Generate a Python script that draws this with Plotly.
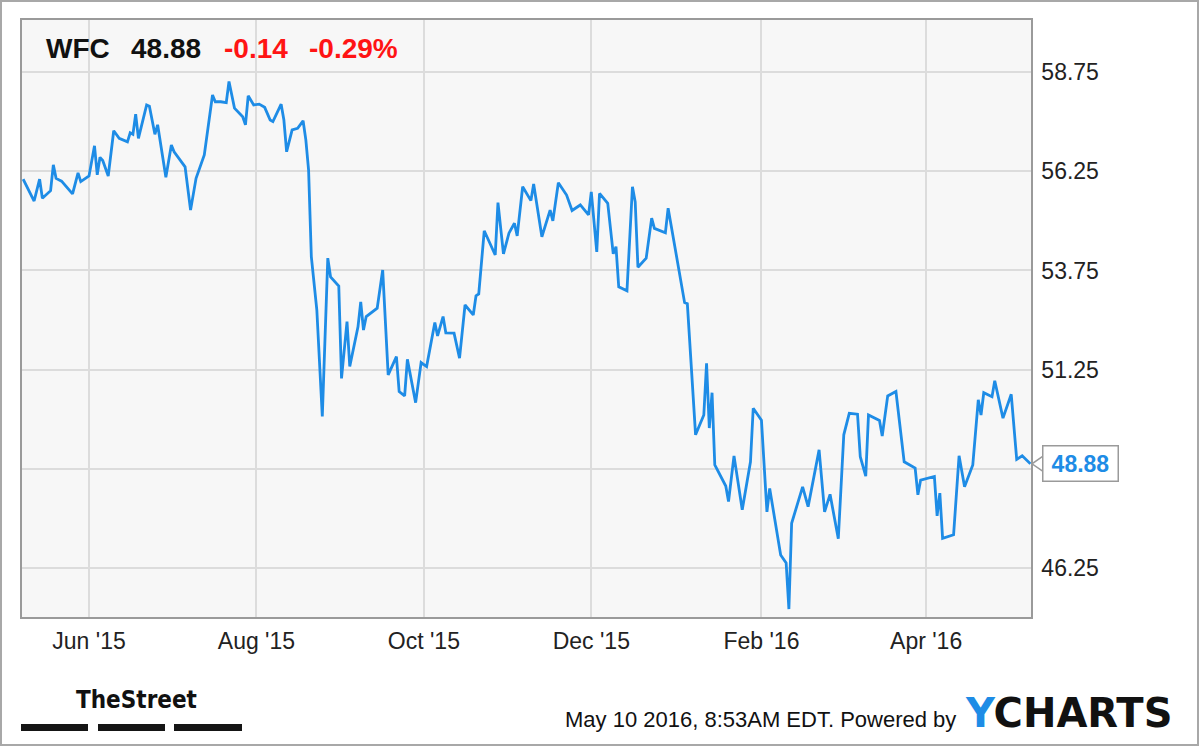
import plotly.graph_objects as go
import pandas as pd

# ---------------- data ----------------
dates = [
    "2015-05-08", "2015-05-12", "2015-05-14", "2015-05-15", "2015-05-18", "2015-05-19", "2015-05-20",
    "2015-05-22", "2015-05-26", "2015-05-28", "2015-05-29", "2015-05-31", "2015-06-01", "2015-06-03",
    "2015-06-04", "2015-06-05", "2015-06-06", "2015-06-08", "2015-06-10", "2015-06-12", "2015-06-15",
    "2015-06-16", "2015-06-17", "2015-06-18", "2015-06-19", "2015-06-22", "2015-06-23", "2015-06-25",
    "2015-06-26", "2015-06-29", "2015-07-01", "2015-07-02", "2015-07-06", "2015-07-08", "2015-07-10",
    "2015-07-13", "2015-07-16", "2015-07-17", "2015-07-19", "2015-07-21", "2015-07-22", "2015-07-24",
    "2015-07-27", "2015-07-28", "2015-07-29", "2015-07-31", "2015-08-02", "2015-08-04", "2015-08-06",
    "2015-08-07", "2015-08-10", "2015-08-11", "2015-08-12", "2015-08-14", "2015-08-16", "2015-08-18",
    "2015-08-19", "2015-08-20", "2015-08-21", "2015-08-23", "2015-08-25", "2015-08-27", "2015-08-28",
    "2015-08-31", "2015-09-01", "2015-09-03", "2015-09-04", "2015-09-07", "2015-09-08", "2015-09-09",
    "2015-09-10", "2015-09-14", "2015-09-16", "2015-09-18", "2015-09-21", "2015-09-22", "2015-09-24",
    "2015-09-25", "2015-09-28", "2015-09-30", "2015-10-02", "2015-10-05", "2015-10-06", "2015-10-08",
    "2015-10-09", "2015-10-12", "2015-10-14", "2015-10-16", "2015-10-19", "2015-10-20", "2015-10-21",
    "2015-10-23", "2015-10-27", "2015-10-28", "2015-10-30", "2015-11-01", "2015-11-03", "2015-11-04",
    "2015-11-06", "2015-11-09", "2015-11-10", "2015-11-13", "2015-11-16", "2015-11-17", "2015-11-19",
    "2015-11-22", "2015-11-24", "2015-11-27", "2015-11-30", "2015-12-01", "2015-12-03", "2015-12-04",
    "2015-12-07", "2015-12-09", "2015-12-10", "2015-12-11", "2015-12-14", "2015-12-16", "2015-12-17",
    "2015-12-18", "2015-12-21", "2015-12-23", "2015-12-24", "2015-12-28", "2015-12-29", "2016-01-04",
    "2016-01-05", "2016-01-08", "2016-01-11", "2016-01-12", "2016-01-13", "2016-01-14", "2016-01-15",
    "2016-01-19", "2016-01-20", "2016-01-22", "2016-01-25", "2016-01-28", "2016-01-29", "2016-02-01",
    "2016-02-03", "2016-02-04", "2016-02-08", "2016-02-10", "2016-02-11", "2016-02-12", "2016-02-16",
    "2016-02-18", "2016-02-22", "2016-02-24", "2016-02-26", "2016-02-29", "2016-03-02", "2016-03-04",
    "2016-03-07", "2016-03-08", "2016-03-10", "2016-03-11", "2016-03-15", "2016-03-16", "2016-03-18",
    "2016-03-21", "2016-03-24", "2016-03-28", "2016-03-29", "2016-03-30", "2016-04-04", "2016-04-05",
    "2016-04-06", "2016-04-07", "2016-04-11", "2016-04-13", "2016-04-15", "2016-04-18", "2016-04-20",
    "2016-04-21", "2016-04-22", "2016-04-25", "2016-04-26", "2016-04-29", "2016-05-02", "2016-05-04",
    "2016-05-06", "2016-05-09",
]
prices = [
    56.05, 55.50, 56.05, 55.57, 55.76, 56.41, 56.07,
    56.00, 55.68, 56.21, 55.99, 56.07, 56.13, 56.89,
    56.16, 56.60, 56.52, 56.13, 57.27, 57.08, 56.99,
    57.22, 57.18, 57.69, 57.08, 57.92, 57.89, 57.18,
    57.42, 56.10, 56.91, 56.74, 56.36, 55.27, 56.07,
    56.66, 58.17, 58.00, 58.00, 57.98, 58.51, 57.84,
    57.62, 57.42, 58.15, 57.92, 57.94, 57.86, 57.54,
    57.50, 57.94, 57.54, 56.74, 57.29, 57.33, 57.52,
    57.04, 56.28, 54.10, 52.76, 50.07, 54.06, 53.59,
    53.36, 51.03, 52.46, 51.33, 52.33, 52.96, 52.25,
    52.59, 52.80, 53.76, 51.12, 51.58, 50.70, 50.59,
    51.51, 50.42, 51.43, 51.33, 52.44, 52.10, 52.59,
    52.18, 52.17, 51.54, 52.88, 52.63, 53.11, 53.16,
    54.75, 54.14, 55.46, 54.17, 54.69, 54.94, 54.62,
    55.86, 55.51, 55.93, 54.60, 55.27, 55.00, 55.96,
    55.65, 55.26, 55.40, 55.15, 55.73, 54.22, 55.69,
    55.44, 54.17, 54.35, 53.34, 53.24, 55.86, 55.48,
    53.83, 54.06, 55.07, 54.81, 54.70, 55.32, 52.94,
    52.91, 49.61, 50.11, 51.41, 49.78, 50.67, 48.85,
    48.32, 47.93, 49.08, 47.72, 48.93, 50.28, 49.98,
    47.67, 48.26, 46.58, 46.38, 45.22, 47.38, 48.30,
    47.80, 49.23, 47.67, 48.11, 46.99, 49.61, 50.15,
    50.13, 49.06, 48.57, 50.11, 49.97, 49.58, 50.59,
    50.70, 48.93, 48.77, 48.10, 48.47, 48.56, 47.57,
    48.14, 47.00, 47.09, 49.08, 48.30, 48.85, 50.49,
    50.11, 50.67, 50.57, 50.97, 50.03, 50.63, 48.99,
    49.08, 48.88,
]

ticker = "WFC"
last_price = "48.88"
change = "-0.14"
change_pct = "-0.29%"
x_tick_vals = ["2015-06-01", "2015-08-01", "2015-10-01", "2015-12-01", "2016-02-01", "2016-04-01"]
y_tick_vals = [46.25, 48.75, 51.25, 53.75, 56.25, 58.75]
y_tick_text = ["46.25", "", "51.25", "53.75", "56.25", "58.75"]
timestamp_text = "May 10 2016, 8:53AM EDT. Powered by"
brand_left = "TheStreet"

# ---------------- layout helpers ----------------
W, H = 1200, 747
ML, MR, MT, MB = 22, 169, 20, 130
PW = W - ML - MR
PH = H - MT - MB


def px(x):
    return (x - ML) / PW


def py(y):
    return (H - MB - y) / PH


LINE_BLUE = "#1e8ce6"
FONT = "Liberation Sans, Arial, sans-serif"

fig = go.Figure()
fig.add_trace(go.Scatter(
    x=dates, y=prices, mode="lines",
    line=dict(color=LINE_BLUE, width=2.8),
    hoverinfo="x+y", showlegend=False,
))

x0 = pd.Timestamp(dates[0]) - pd.Timedelta(hours=10)
x1 = pd.Timestamp(dates[-1]) + pd.Timedelta(hours=5)

fig.update_layout(
    width=W, height=H,
    margin=dict(l=ML, r=MR, t=MT, b=MB, pad=0),
    paper_bgcolor="white",
    plot_bgcolor="#f7f7f7",
    font=dict(family=FONT, color="#222"),
    xaxis=dict(
        type="date", range=[x0, x1],
        tickvals=x_tick_vals, tickformat="%b '%y",
        tickfont=dict(size=23, color="#222", family=FONT),
        showgrid=True, gridcolor="#dcdcdc", gridwidth=1.5,
        showline=True, linecolor="#9a9a9a", linewidth=1.5, mirror=True,
        ticks="", ticklabelstandoff=3, zeroline=False,
    ),
    yaxis=dict(
        side="right", range=[45.02, 60.06],
        tickvals=y_tick_vals, ticktext=y_tick_text,
        tickfont=dict(size=23, color="#222", family=FONT),
        showgrid=True, gridcolor="#dcdcdc", gridwidth=1.5,
        showline=True, linecolor="#9a9a9a", linewidth=1.5, mirror=True,
        ticks="", ticklabelstandoff=4, zeroline=False,
    ),
)

last_val = prices[-1]
annotations = [
    dict(x=px(44), y=py(48), xref="paper", yref="paper", xanchor="left", yanchor="middle",
         text=f"<b>{ticker}</b>", showarrow=False, font=dict(size=28, color="#111", family=FONT)),
    dict(x=px(129), y=py(48), xref="paper", yref="paper", xanchor="left", yanchor="middle",
         text=f"<b>{last_price}</b>", showarrow=False, font=dict(size=28, color="#111", family=FONT)),
    dict(x=px(222), y=py(48), xref="paper", yref="paper", xanchor="left", yanchor="middle",
         text=f"<b>{change}</b>", showarrow=False, font=dict(size=28, color="#ff1414", family=FONT)),
    dict(x=px(307), y=py(48), xref="paper", yref="paper", xanchor="left", yanchor="middle",
         text=f"<b>{change_pct}</b>", showarrow=False, font=dict(size=28, color="#ff1414", family=FONT)),
    # current value box
    dict(x=px(1042), y=last_val, xref="paper", yref="y", xanchor="left", yanchor="middle",
         text=f"<b>{last_price}</b>", showarrow=False, width=66, align="center",
         font=dict(size=23, color=LINE_BLUE, family=FONT),
         bgcolor="white", bordercolor="#9a9a9a", borderwidth=1.5, borderpad=4),
    # footer
    dict(x=px(74), y=py(700), xref="paper", yref="paper", xanchor="left", yanchor="middle",
         text=f"<b>{brand_left}</b>", showarrow=False,
         font=dict(size=24, color="#111", family="Liberation Sans Narrow, DejaVu Sans Condensed, Arial Narrow, sans-serif")),
    dict(x=px(958), y=py(720), xref="paper", yref="paper", xanchor="right", yanchor="middle",
         text=timestamp_text, showarrow=False, font=dict(size=22, color="#111", family=FONT)),
    dict(x=px(963), y=py(713), xref="paper", yref="paper", xanchor="left", yanchor="middle",
         text="<b><span style='color:#1e8ce6'>Y</span>CHARTS</b>", showarrow=False,
         font=dict(size=40, color="#111", family="DejaVu Sans, sans-serif")),
]
fig.update_layout(annotations=annotations)

shapes = [
    # pointer of the value box
    dict(type="path", xref="paper", yref="y",
         path=f"M {px(1043)},{last_val + 0.19} L {px(1032)},{last_val} L {px(1043)},{last_val - 0.19}",
         line=dict(color="#9a9a9a", width=1.5), layer="above"),
    # outer frame
    dict(type="rect", xref="paper", yref="paper",
         x0=px(1), x1=px(1198), y0=py(745), y1=py(1),
         line=dict(color="#a8a8a8", width=2), fillcolor="rgba(0,0,0,0)", layer="above"),
]
for bx0, bx1 in [(21, 88), (98, 165), (174, 242)]:
    shapes.append(dict(type="rect", xref="paper", yref="paper",
                       x0=px(bx0), x1=px(bx1), y0=py(731), y1=py(724),
                       line=dict(width=0), fillcolor="#151515"))
fig.update_layout(shapes=shapes)

fig.write_html(
    "out.html",
    config={"displayModeBar": False},
    post_script="document.body.style.margin='0';document.body.style.overflow='hidden';",
)
